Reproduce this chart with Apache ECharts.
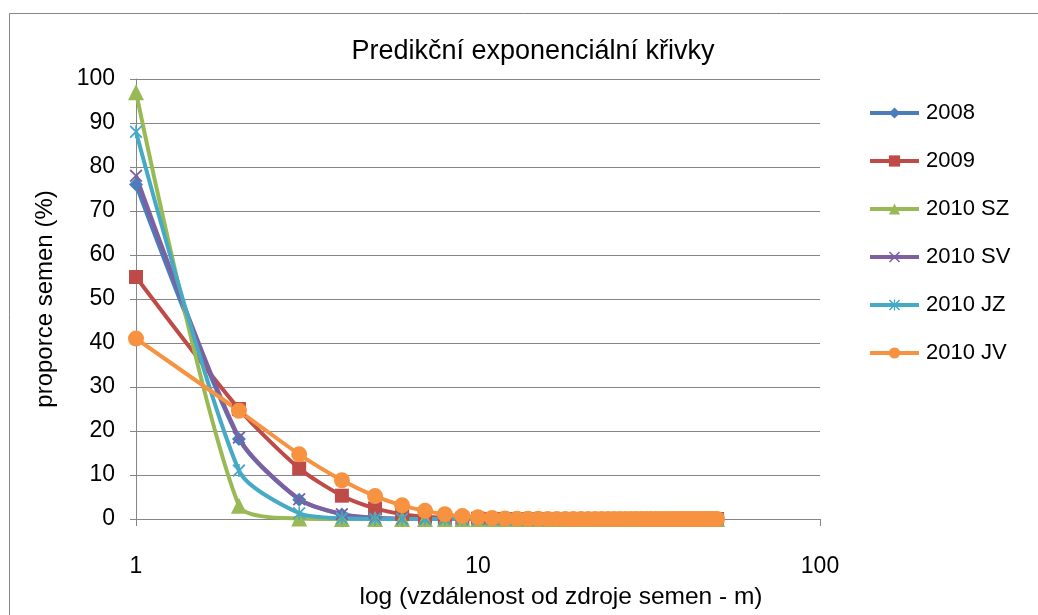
<!DOCTYPE html>
<html>
<head>
<meta charset="utf-8">
<script src="https://cdn.jsdelivr.net/npm/echarts@6/dist/echarts.min.js"></script>
<style>
html,body{margin:0;padding:0;background:#fff;}
#c{width:1038px;height:615px;}
</style>
</head>
<body>
<div id="c"></div>
<script>
// distances (m)
var distances = [1,2,3,4,5,6,7,8,9,10,11,12,13,14,15,16,17,18,19,20,21,22,23,24,25,26,27,28,29,30,31,32,33,34,35,36,37,38,39,40,41,42,43,44,45,46,47,48,49,50];
var seriesNames = ['2008','2009','2010 SZ','2010 SV','2010 JZ','2010 JV'];
var s2008   = [76, 18.2, 4.4, 1.05, 0.25, 0.06, 0.015, 0,0,0, 0,0,0,0,0,0,0,0,0,0, 0,0,0,0,0,0,0,0,0,0, 0,0,0,0,0,0,0,0,0,0, 0,0,0,0,0,0,0,0,0,0];
var s2009   = [55, 25, 11.5, 5.3, 2.4, 1.1, 0.5, 0.23, 0.1, 0.05, 0.02, 0.01, 0,0,0,0,0,0,0,0, 0,0,0,0,0,0,0,0,0,0, 0,0,0,0,0,0,0,0,0,0, 0,0,0,0,0,0,0,0,0,0];
var s2010SZ = [97, 3, 0.1, 0,0,0,0,0,0,0, 0,0,0,0,0,0,0,0,0,0, 0,0,0,0,0,0,0,0,0,0, 0,0,0,0,0,0,0,0,0,0, 0,0,0,0,0,0,0,0,0,0];
var s2010SV = [78, 18.5, 4.5, 1.1, 0.27, 0.07, 0.02, 0,0,0, 0,0,0,0,0,0,0,0,0,0, 0,0,0,0,0,0,0,0,0,0, 0,0,0,0,0,0,0,0,0,0, 0,0,0,0,0,0,0,0,0,0];
var s2010JZ = [88, 11, 1.3, 0.15, 0.02, 0,0,0,0,0, 0,0,0,0,0,0,0,0,0,0, 0,0,0,0,0,0,0,0,0,0, 0,0,0,0,0,0,0,0,0,0, 0,0,0,0,0,0,0,0,0,0];
var s2010JV = [41, 24.6, 14.7, 8.8, 5.2, 3.1, 1.85, 1.1, 0.66, 0.4, 0.24, 0.14, 0.08, 0.05, 0.03, 0.02, 0.01, 0,0,0, 0,0,0,0,0,0,0,0,0,0, 0,0,0,0,0,0,0,0,0,0, 0,0,0,0,0,0,0,0,0,0];
var yTicks = [0,10,20,30,40,50,60,70,80,90,100];
var xTicks = [1,10,100];

var colors = ['#4A7EBB','#BE4B48','#98B954','#7D60A0','#46AAC5','#F69240'];
var xPath = 'path://M0,1 L1,0 L10,9 L9,10 Z M9,0 L10,1 L1,10 L0,9 Z';
var starPath = 'path://M0,1 L1,0 L10,9 L9,10 Z M9,0 L10,1 L1,10 L0,9 Z M4.4,0 L5.6,0 L5.6,10 L4.4,10 Z';
var symbols = ['diamond','rect','triangle',xPath,starPath,'circle'];
var sizes = [14,14,16,13,13,16];
var allData = [s2008,s2009,s2010SZ,s2010SV,s2010JZ,s2010JV];

var font = 'Liberation Sans, Arial, sans-serif';
var series = allData.map(function(arr, i){
  return {
    name: seriesNames[i],
    type: 'line',
    smooth: 0.25,
    symbol: symbols[i],
    symbolSize: sizes[i],
    showAllSymbol: true,
    color: colors[i],
    lineStyle: {width: 4, color: colors[i]},
    itemStyle: {color: colors[i]},
    emphasis: {disabled: true},
    data: distances.map(function(d, j){ return [d, arr[j]]; })
  };
});

var chart = echarts.init(document.getElementById('c'), null, {renderer:'canvas'});
chart.setOption({
  animation: false,
  backgroundColor: '#fff',
  textStyle: {fontFamily: font},
  graphic: [{
    type: 'rect', shape: {x: 9.5, y: 13.5, width: 1040, height: 620},
    style: {fill: 'none', stroke: '#868686', lineWidth: 1}, silent: true
  }],
  title: {
    text: 'Predikční exponenciální křivky',
    left: 528, top: 33, textAlign: 'center',
    textStyle: {fontFamily: font, fontSize: 27, fontWeight: 'normal', color: '#000'}
  },
  legend: {
    orient: 'vertical', left: 863, top: 97,
    itemWidth: 49, itemHeight: 14, itemGap: 26,
    lineStyle: {width: 4},
    textStyle: {fontFamily: font, fontSize: 22, color: '#000', padding: [0,0,0,2]},
    data: seriesNames
  },
  grid: {left: 136, right: 218, top: 79, bottom: 86, containLabel: false},
  xAxis: {
    type: 'log', logBase: 10, min: 1, max: 100,
    name: 'log (vzdálenost od zdroje semen - m)',
    nameLocation: 'middle', nameGap: 66,
    nameTextStyle: {fontFamily: font, fontSize: 24.5, color: '#000', padding: [0,0,0,166]},
    axisLine: {show: true, lineStyle: {color: '#868686', width: 1}},
    axisTick: {show: true, length: 7, inside: false, lineStyle: {color: '#868686'}},
    minorTick: {show: false},
    splitLine: {show: false},
    axisLabel: {fontFamily: font, fontSize: 23, color: '#000', margin: 36,
      customValues: xTicks},
  },
  yAxis: {
    type: 'value', min: 0, max: 100, interval: 10,
    name: 'proporce semen (%)',
    nameLocation: 'middle', nameGap: 79, nameRotate: 90,
    nameTextStyle: {fontFamily: font, fontSize: 24, color: '#000'},
    axisLine: {show: true, lineStyle: {color: '#868686', width: 1}},
    axisTick: {show: true, length: 6, lineStyle: {color: '#868686'}},
    splitLine: {show: true, lineStyle: {color: '#868686', width: 1}},
    axisLabel: {fontFamily: font, fontSize: 23, color: '#000', margin: 21,
      customValues: yTicks}
  },
  series: series
});
</script>
</body>
</html>
